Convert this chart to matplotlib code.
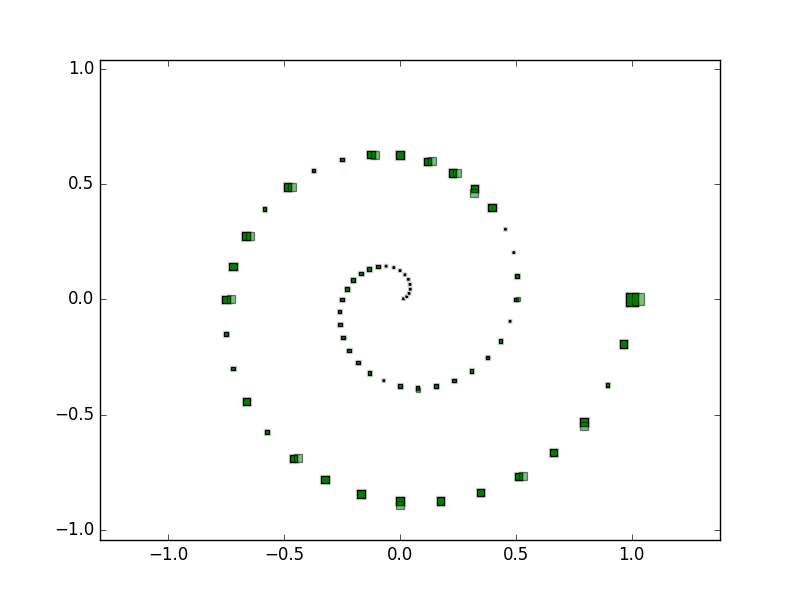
import matplotlib
matplotlib.use("Agg")
import matplotlib.pyplot as plt
import matplotlib.patheffects as pe
import numpy as np

plt.style.use("classic")

# spiral points, from the centre outward
x = [0.015, 0.029, 0.039, 0.044, 0.043, 0.036, 0.021, 0.000,
     -0.027, -0.060, -0.096, -0.133, -0.169, -0.202, -0.230, -0.250,
     -0.261, -0.260, -0.247, -0.221, -0.182, -0.132, -0.070, 0.000,
     0.076, 0.155, 0.234, 0.309, 0.377, 0.433, 0.475, 0.500,
     0.506, 0.491, 0.455, 0.398, 0.321, 0.227, 0.119, 0.000,
     -0.125, -0.251, -0.373, -0.486, -0.585, -0.664, -0.720, -0.750,
     -0.751, -0.722, -0.663, -0.575, -0.460, -0.323, -0.168, 0.000,
     0.174, 0.347, 0.512, 0.663, 0.793, 0.895, 0.965, 1.000]
y = [0.003, 0.012, 0.026, 0.044, 0.065, 0.087, 0.107, 0.125,
     0.138, 0.144, 0.143, 0.133, 0.113, 0.084, 0.046, 0.000,
     -0.052, -0.108, -0.165, -0.221, -0.273, -0.318, -0.352, -0.375,
     -0.383, -0.375, -0.351, -0.309, -0.252, -0.179, -0.095, 0.000,
     0.101, 0.203, 0.304, 0.398, 0.481, 0.549, 0.598, 0.625,
     0.628, 0.606, 0.559, 0.486, 0.391, 0.275, 0.143, 0.000,
     -0.149, -0.299, -0.443, -0.575, -0.689, -0.780, -0.843, -0.875,
     -0.874, -0.837, -0.767, -0.663, -0.530, -0.371, -0.192, 0.000]
# marker class per point: T tiny, S small, M medium, B big
size_class = list("TTTTTTTTTTSSSSSS"
                  "SSSSSSTSSSSSSSTS"
                  "STTMMMMMMSSMSMMM"
                  "SSMSMMMMMMMMMSMB")
# semi-transparent twin square: R to the right, D below, - none
twin = list("----------------"
            "--------D------R"
            "----DRR-R--R-R-R"
            "----R--D--R-D--R")

side_px = {"T": 2.4, "S": 4.5, "M": 8.5, "B": 13.0}
px_per_unit = 231.0

fig, ax = plt.subplots(figsize=(8, 6), dpi=100)
halo = [pe.withStroke(linewidth=2.4, foreground="0.82")]

xs = np.array(x)
ys = np.array(y)

for c in "TSMB":
    sel = np.array([s == c for s in size_class])
    ax.plot(xs[sel], ys[sel], "s", ms=side_px[c] * 0.72 - 0.6,
            mfc="green", mec="black", mew=0.9, path_effects=halo, zorder=3)

for i, t in enumerate(twin):
    if t == "-":
        continue
    d = side_px[size_class[i]] / 2 / px_per_unit
    dx, dy = (d, 0.0) if t == "R" else (0.0, -d)
    ax.plot(xs[i] + dx, ys[i] + dy, "s", ms=side_px[size_class[i]] * 0.72 - 0.6,
            mfc="green", mec="black", mew=0.9, alpha=0.5, zorder=4)

ax.set_xlim(-1.295, 1.381)
ax.set_ylim(-1.043, 1.038)
ax.set_xticks([-1.0, -0.5, 0.0, 0.5, 1.0])
ax.set_yticks([-1.0, -0.5, 0.0, 0.5, 1.0])

fig.savefig("out.png", dpi=100)
